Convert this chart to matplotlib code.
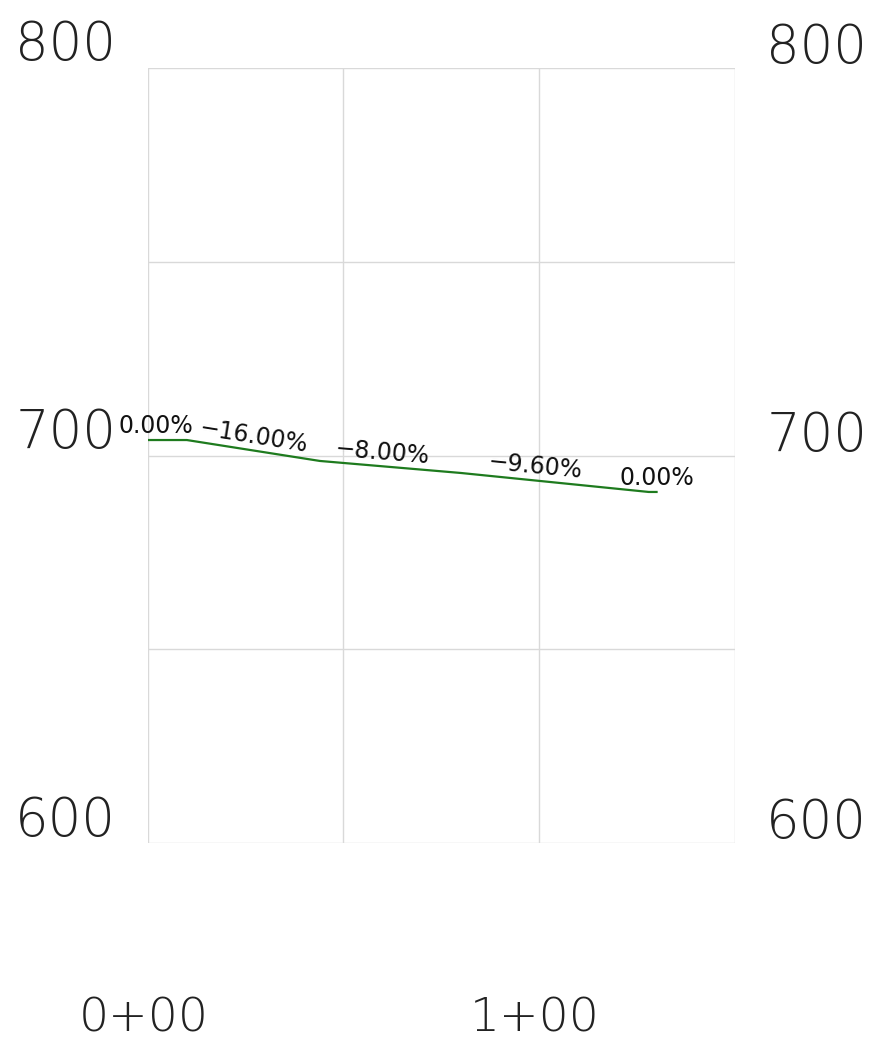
import matplotlib
matplotlib.use("Agg")
import matplotlib.pyplot as plt
import numpy as np

# profile data (station ft, elevation ft)
stations = [0, 10, 44, 80, 128, 130]
elevations = [704.0, 704.0, 698.6, 695.5, 690.6, 690.6]

# grade labels and the station where each one sits
grade_labels = ["0.00%", "\u221216.00%", "\u22128.00%", "\u22129.60%", "0.00%"]
grade_values = [0.0, -16.0, -8.0, -9.6, 0.0]
label_stations = [2, 27, 60, 99, 130]

elev_ticks = [600, 700, 800]
station_ticks = [0, 100]
station_labels = ["0+00", "1+00"]

fig = plt.figure(figsize=(8.79, 10.46), dpi=100)
ax = fig.add_axes([0.168, 0.194, 0.668, 0.741])

ax.set_xlim(0, 150)
ax.set_ylim(600, 800)

gridc = "#d9d9d9"
for x in np.arange(0, 151, 50):
    ax.axvline(x, color=gridc, lw=1.0, zorder=1)
for y in np.arange(600, 801, 50):
    ax.axhline(y, color=gridc, lw=1.0, zorder=1)
for s in ax.spines.values():
    s.set_visible(False)
ax.set_xticks([])
ax.set_yticks([])

ax.plot(stations, elevations, color="#1e7b1e", lw=1.6, zorder=3)

# grade labels, sitting just above the line, turned with the grade
for lab, g, st in zip(grade_labels, grade_values, label_stations):
    el = np.interp(st, stations, elevations)
    ang = np.degrees(np.arctan(g / 100.0))
    ax.annotate(lab, xy=(st, el), xytext=(0, 10), textcoords="offset points",
                ha="center", va="center", fontsize=17, color="#111111",
                rotation=ang, rotation_mode="anchor", annotation_clip=False)

# elevation labels both sides
for e in elev_ticks:
    ax.annotate(str(e), xy=(0, e), xycoords=("axes fraction", "data"),
                xytext=(-59, 16), textcoords="offset points",
                ha="center", va="center", fontsize=38, color="#222222",
                fontweight="light", annotation_clip=False)
    ax.annotate(str(e), xy=(1, e), xycoords=("axes fraction", "data"),
                xytext=(59, 14), textcoords="offset points",
                ha="center", va="center", fontsize=38, color="#222222",
                fontweight="light", annotation_clip=False)

# station labels under the grid
for st, lab in zip(station_ticks, station_labels):
    ax.annotate(lab, xy=(st, 0), xycoords=("data", "axes fraction"),
                xytext=(-3, -126), textcoords="offset points",
                ha="center", va="center", fontsize=34, color="#222222",
                fontweight="light", annotation_clip=False)

fig.savefig("out.png", dpi=100, facecolor="white")
